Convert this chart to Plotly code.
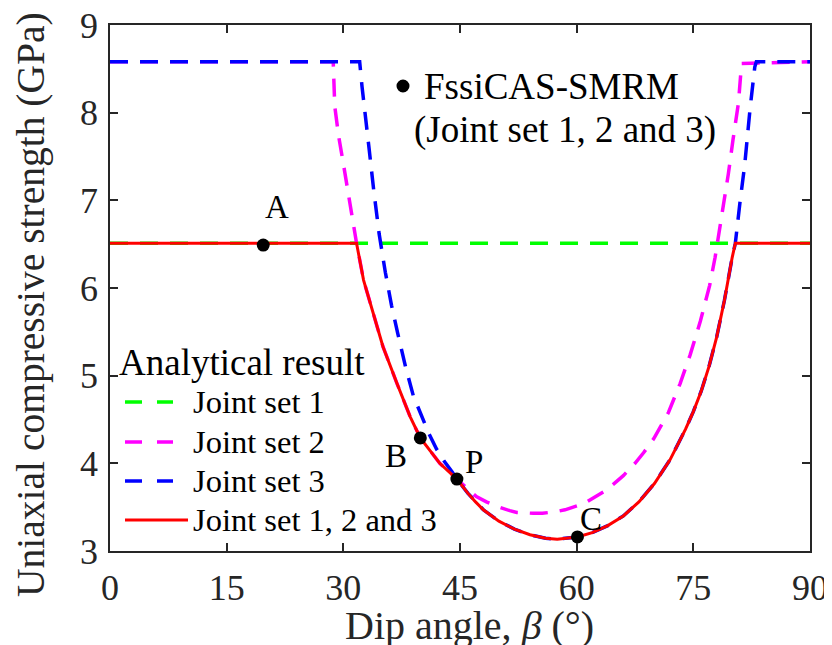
import plotly.graph_objects as go

# ---- data ----
beta_set1 = [0, 90]
ucs_set1 = [6.51, 6.51]

beta_set2 = [0, 28.7, 28.9, 29.4, 30.0, 30.6, 31.3, 31.7, 32.6, 33.9, 35.1, 36.9, 38.6, 39.9,
             42.4, 44.6, 45.9, 47.1, 48.4, 49.7, 51.4, 52.3, 54.4, 55.6, 57.4, 58.5, 60.9,
             62.5, 63.9, 64.7, 66.0, 67.5, 68.6, 69.9, 71.0, 71.8, 73.3, 74.6, 75.9, 77.1,
             77.8, 78.4, 79.1, 79.5, 80.1, 80.8, 81.2, 90]
ucs_set2 = [8.58, 8.58, 8.07, 7.73, 7.42, 7.08, 6.70, 6.51, 6.09, 5.69, 5.33, 4.91, 4.53, 4.29,
            4.00, 3.82, 3.71, 3.62, 3.56, 3.51, 3.46, 3.44, 3.43, 3.43, 3.45, 3.47, 3.54,
            3.62, 3.70, 3.76, 3.86, 4.00, 4.12, 4.28, 4.45, 4.58, 4.91, 5.24, 5.62, 6.03,
            6.35, 6.68, 7.02, 7.30, 7.69, 8.11, 8.56, 8.58]

beta_set3 = [0, 32.1, 32.4, 32.8, 33.3, 33.9, 34.6, 35.4, 36.2, 37.0, 38.0, 39.0, 40.0, 41.0,
             42.0, 43.0, 44.0, 44.6, 46.0, 47.0, 48.0, 50.0, 52.0, 54.0, 56.0, 57.5, 59.0,
             60.1, 62.0, 64.0, 66.0, 68.0, 70.0, 72.0, 74.0, 75.0, 76.0, 77.0, 78.0, 79.0,
             80.0, 80.4, 81.0, 81.6, 82.3, 82.9, 83.1, 90]
ucs_set3 = [8.58, 8.58, 8.30, 7.95, 7.60, 7.12, 6.62, 6.18, 5.80, 5.48, 5.10, 4.77, 4.55, 4.34,
            4.16, 4.02, 3.90, 3.82, 3.66, 3.56, 3.47, 3.34, 3.25, 3.185, 3.145, 3.135, 3.145,
            3.16, 3.21, 3.29, 3.40, 3.56, 3.77, 4.04, 4.39, 4.59, 4.82, 5.10, 5.44, 5.86,
            6.35, 6.51, 6.98, 7.40, 8.05, 8.52, 8.58, 8.58]

beta_all = [0, 31.7, 32.6, 33.9, 35.1, 36.9, 38.6, 39.9, 42.4, 44.6, 46.0, 47.0, 48.0, 50.0,
            52.0, 54.0, 56.0, 57.5, 59.0, 60.1, 62.0, 64.0, 66.0, 68.0, 70.0, 72.0, 74.0,
            75.0, 76.0, 77.0, 78.0, 79.0, 80.0, 80.4, 90]
ucs_all = [6.51, 6.51, 6.09, 5.69, 5.33, 4.91, 4.53, 4.29, 4.00, 3.82, 3.66, 3.56, 3.47, 3.34,
           3.25, 3.185, 3.145, 3.135, 3.145, 3.16, 3.21, 3.29, 3.40, 3.56, 3.77, 4.04, 4.39,
           4.59, 4.82, 5.10, 5.44, 5.86, 6.35, 6.51, 6.51]

fssi_beta = [19.7, 39.9, 44.6, 60.1]
fssi_ucs = [6.49, 4.29, 3.82, 3.16]
fssi_labels = ["A", "B", "P", "C"]

x_ticks = [0, 15, 30, 45, 60, 75, 90]
y_ticks = [3, 4, 5, 6, 7, 8, 9]

x_title = "Dip angle, <i>β</i> (°)"
y_title = "Uniaxial compressive strength (GPa)"
legend_names = ["Joint set 1", "Joint set 2", "Joint set 3", "Joint set 1, 2 and 3"]
legend_title = "Analytical result"
fssi_name = ["FssiCAS-SMRM", "(Joint set 1, 2 and 3)"]

# ---- styling ----
FONT = "Liberation Serif, Times New Roman, serif"
AX = "#262626"
DASH = "18px,12px"
colors = ["#00FF00", "#FF00FF", "#0000FF", "#FF0000"]
dashes = [DASH, DASH, DASH, "solid"]
widths = [3.5, 3.5, 3.5, 3]

fig = go.Figure()
series = [(beta_set1, ucs_set1), (beta_set2, ucs_set2), (beta_set3, ucs_set3), (beta_all, ucs_all)]
for (bx, uy), nm, c, d, w in zip(series, legend_names, colors, dashes, widths):
    fig.add_trace(go.Scatter(x=bx, y=uy, mode="lines", name=nm, showlegend=False,
                             line=dict(color=c, width=w, dash=d)))
fig.add_trace(go.Scatter(x=fssi_beta, y=fssi_ucs, mode="markers", name=" ".join(fssi_name),
                         showlegend=False, marker=dict(color="black", size=13),
                         cliponaxis=False))

shifts = {"A": (14, 38), "B": (-24, -18), "P": (17, 17), "C": (14, 18)}
for bx, uy, lab in zip(fssi_beta, fssi_ucs, fssi_labels):
    dx, dy = shifts[lab]
    fig.add_annotation(x=bx, y=uy, text=lab, showarrow=False, xshift=dx, yshift=dy,
                       font=dict(family=FONT, size=33, color="black"))

# ---- plot area as seen on the page (the page body adds an 8px offset) ----
OFF = 8
L, R, T, B = 110, 810, 25, 551
def px(x):
    return (x - L) / (R - L)
def py(y):
    return (B - y) / (B - T)

# axis titles
fig.add_annotation(xref="paper", yref="paper", x=px(470), y=py(625), text=x_title,
                   showarrow=False, xanchor="center", yanchor="middle",
                   font=dict(family=FONT, size=40, color=AX))
fig.add_annotation(xref="paper", yref="paper", x=px(31), y=py(305), text=y_title,
                   showarrow=False, xanchor="center", yanchor="middle", textangle=-90,
                   font=dict(family=FONT, size=39.5, color=AX))

# legend (analytical result)
fig.add_annotation(xref="paper", yref="paper", x=px(117), y=py(362), text=legend_title,
                   showarrow=False, xanchor="left", yanchor="middle",
                   font=dict(family=FONT, size=37, color="black"))
rows_y = [402, 442, 481, 520]
for nm, c, d, w, ry in zip(legend_names, colors, dashes, widths, rows_y):
    x_end = 188 if d == "solid" else 173
    fig.add_shape(type="line", xref="paper", yref="paper", x0=px(125), x1=px(x_end),
                  y0=py(ry), y1=py(ry), line=dict(color=c, width=w,
                  dash="17px,15px" if d != "solid" else "solid"))
    fig.add_annotation(xref="paper", yref="paper", x=px(191), y=py(ry), text=nm,
                       showarrow=False, xanchor="left", yanchor="middle",
                       font=dict(family=FONT, size=32.5, color="black"))

# legend (simulation points)
fig.add_shape(type="circle", xref="paper", yref="paper", xsizemode="pixel", ysizemode="pixel",
              xanchor=px(403), yanchor=py(86), x0=-6.5, x1=6.5, y0=-6.5, y1=6.5,
              fillcolor="black", line=dict(color="black", width=0))
fig.add_annotation(xref="paper", yref="paper", x=px(422), y=py(86), text=fssi_name[0],
                   showarrow=False, xanchor="left", yanchor="middle",
                   font=dict(family=FONT, size=37, color="black"))
fig.add_annotation(xref="paper", yref="paper", x=px(412), y=py(130), text=fssi_name[1],
                   showarrow=False, xanchor="left", yanchor="middle",
                   font=dict(family=FONT, size=37, color="black"))

axis_common = dict(showline=True, linecolor=AX, linewidth=1.5, mirror="allticks",
                   ticks="inside", ticklen=8, tickwidth=1.5, tickcolor=AX,
                   showgrid=False, zeroline=False, automargin=False,
                   ticklabeloverflow="allow",
                   tickfont=dict(family=FONT, size=36, color=AX))

W, H = 832, 645
fig.update_layout(
    width=W, height=H,
    margin=dict(l=L - OFF, r=W - R + OFF, t=T - OFF, b=H - B + OFF),
    paper_bgcolor="white", plot_bgcolor="white",
    font=dict(family=FONT, color=AX),
    xaxis=dict(range=[0, 90], tickvals=x_ticks, ticktext=[str(v) for v in x_ticks],
               ticklabelstandoff=4, **axis_common),
    yaxis=dict(range=[3, 9], tickvals=y_ticks, ticktext=[str(v) for v in y_ticks],
               ticklabelstandoff=3, **axis_common),
    showlegend=False,
)

fig.write_html("out.html")
